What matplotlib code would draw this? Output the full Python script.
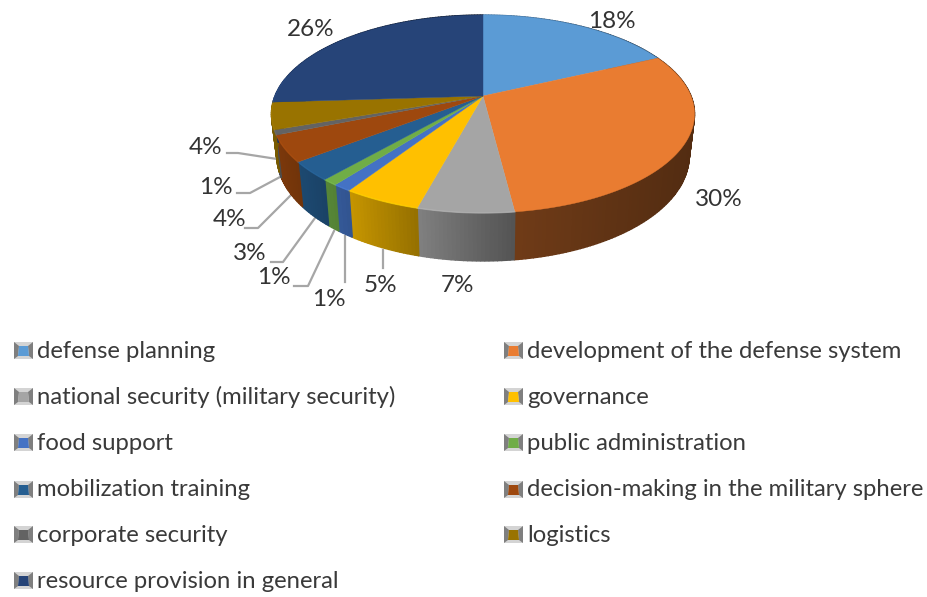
"""3D style pie chart of research topics, drawn in pixel coords."""
import matplotlib
matplotlib.use("Agg")
import matplotlib.pyplot as plt
import numpy as np

plt.rcParams["font.family"] = ["Lato", "DejaVu Sans"]

CATEGORIES = [
    "defense planning", "development of the defense system",
    "national security (military security)", "governance",
    "food support", "public administration",
    "mobilization training", "decision-making in the military sphere",
    "corporate security", "logistics",
    "resource provision in general",
]
VALUES = [18.0, 30.0, 6.2, 5.0, 1.2, 1.0, 3.1, 4.3, 0.8, 4.4, 26.0]
LABELS = ["18%", "30%", "7%", "5%", "1%", "1%", "3%", "4%", "1%", "4%", "26%"]
COLORS = ["#5B9BD5", "#E97C31", "#A5A5A5", "#FFC000", "#4472C4", "#70AD47",
          "#255E91", "#9E480E", "#636363", "#997300", "#264478"]

# label centre, then leader line (None when the label has no leader)
LABEL_POS = [(612, 21), (719, 199), (458, 286), (380, 286), (329, 300), (274, 278),
             (250, 254), (230, 220), (216, 187), (206, 147), (311, 29)]
LEADERS = [None, None, None,
           [(383, 268), (383, 250)],
           [(345, 282), (345, 236)],
           [(294, 286), (308, 286), (334, 231)],
           [(271, 262), (283, 262), (315, 218)],
           [(245, 228), (258, 228), (291, 195)],
           [(237, 193), (250, 193), (280, 177)],
           [(227, 153), (238, 153), (277, 159)],
           None]

# perspective of the pie: apex position and projection factors
CX, CY = 483, 96
A, B, K = 208, 95.7, 0.1818
BOTTOM_SCALE = 0.975


def project(theta):
    u, v = np.sin(theta), np.cos(theta)
    d = 1 + K * v
    return CX + A * u / d, CY - B * v / d


def depth(theta):
    return 40 - 8 * np.cos(theta)


def shaded(color, s):
    rgb = np.array(matplotlib.colors.to_rgb(color))
    return tuple(np.clip(rgb * s, 0, 1))


fig = plt.figure(figsize=(9.28, 5.97), dpi=100)
ax = fig.add_axes([0, 0, 1, 1])
ax.set_xlim(0, 928)
ax.set_ylim(597, 0)
ax.axis("off")

edges = np.radians(np.cumsum([0] + VALUES) * 3.6)

# side walls first, the top covers whatever faces away
for i, col in enumerate(COLORS):
    th = np.linspace(edges[i], edges[i + 1], max(3, int(VALUES[i] * 4)))
    x, y = project(th)
    bx = CX + (x - CX) * BOTTOM_SCALE
    by = y + depth(th)
    s0, rate = (0.48, 0.0007) if i == 1 else (0.78, 0.0028)
    for j in range(len(th) - 1):
        # each wall darkens from its left end to its right end
        s = max(0.34, s0 - rate * (x[j] - x.min()))
        xs = [x[j], x[j + 1], bx[j + 1], bx[j]]
        ys = [y[j], y[j + 1], by[j + 1], by[j]]
        ax.fill(xs, ys, color=shaded(col, s), lw=1.0, zorder=2)

# top faces
for i, col in enumerate(COLORS):
    th = np.linspace(edges[i], edges[i + 1], max(3, int(VALUES[i] * 5)))
    x, y = project(th)
    ax.fill(np.r_[CX, x], np.r_[CY, y], color=col, lw=0.3, zorder=3)
    if i != 1:
        front = np.cos(th) < 0.2
        ax.plot(x[front], y[front], color=shaded(col, 1.12), lw=1.0, alpha=0.6, zorder=4)

# data labels and leaders
for txt, (lx, ly), lead in zip(LABELS, LABEL_POS, LEADERS):
    ax.text(lx, ly, txt, ha="center", va="center", fontsize=17.5, color="#333333", zorder=6)
    if lead:
        ax.plot(*zip(*lead), color="#A6A6A6", lw=1.6, zorder=1)

# legend, two columns
ROW_Y = [351, 397, 443, 490, 535, 581]
COL_X = [14, 504]
for i, (name, col) in enumerate(zip(CATEGORIES, COLORS)):
    sx, sy = COL_X[i % 2], ROW_Y[i // 2]
    # bevelled key: pale box, dark side wedges, colour in the middle
    ax.fill([sx, sx + 19, sx + 19, sx], [sy - 9, sy - 9, sy + 8, sy + 8], color="#D4D4D4", lw=0)
    ax.fill([sx, sx + 5, sx + 4, sx], [sy - 9, sy - 5, sy + 5, sy + 8], color="#7F7F7F", lw=0)
    ax.fill([sx + 19, sx + 14, sx + 15, sx + 19], [sy - 9, sy - 5, sy + 5, sy + 8], color="#7F7F7F", lw=0)
    ax.fill([sx + 5, sx + 14, sx + 15, sx + 4], [sy - 5, sy - 5, sy + 5, sy + 5], color=col, lw=0)
    ax.text(sx + 23, sy, name, ha="left", va="center", fontsize=17.2, color="#3A3A3A")

fig.savefig("out.png", dpi=100)
